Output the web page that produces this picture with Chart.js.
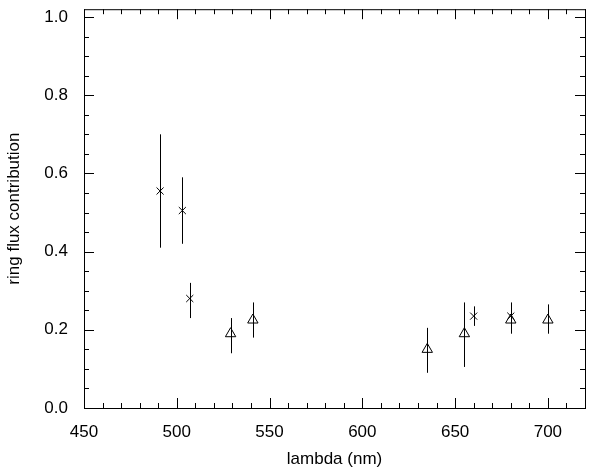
<!DOCTYPE html>
<html><head><meta charset="utf-8">
<script src="https://cdn.jsdelivr.net/npm/chart.js@4"></script>
<style>body{margin:0;background:#fff;overflow:hidden}canvas{display:block;margin-top:-9px}</style>
</head><body>
<canvas id="c" width="599" height="483"></canvas>
<script>
// crosses: wavelength, value, error low, error high
const crossX = [491, 503, 507, 660, 680];
const crossY = [0.555, 0.505, 0.28, 0.235, 0.235];
const crossLo = [0.41, 0.42, 0.23, 0.21, 0.19];
const crossHi = [0.70, 0.59, 0.32, 0.26, 0.27];
// triangles
const triX = [529, 541, 635, 655, 680, 700];
const triY = [0.19, 0.225, 0.15, 0.19, 0.225, 0.225];
const triLo = [0.14, 0.18, 0.09, 0.105, 0.225, 0.19];
const triHi = [0.23, 0.27, 0.205, 0.27, 0.225, 0.265];

const xTicks = [450, 500, 550, 600, 650, 700];
const yTicks = [0, 0.2, 0.4, 0.6, 0.8, 1.0];

const pts = (xs, ys) => xs.map((x, i) => ({x: x, y: ys[i]}));

// error bars + inward ticks drawn with the scales
const decor = {
  id: 'decor',
  afterDatasetsDraw(chart) {
    const {ctx, chartArea: a, scales: {x, y}} = chart;
    ctx.save();
    ctx.strokeStyle = '#000';
    ctx.lineWidth = 1;
    const bars = (xs, lo, hi) => xs.forEach((v, i) => {
      const px = Math.round(x.getPixelForValue(v)) + 0.5;
      ctx.beginPath();
      ctx.moveTo(px, y.getPixelForValue(lo[i]));
      ctx.lineTo(px, y.getPixelForValue(hi[i]));
      ctx.stroke();
    });
    bars(crossX, crossLo, crossHi);
    bars(triX, triLo, triHi);
    ctx.beginPath();
    for (let v = 450; v <= 720; v += 10) {
      const px = Math.round(x.getPixelForValue(v)) + 0.5;
      const len = v % 50 === 0 ? 10 : 5;
      ctx.moveTo(px, a.bottom); ctx.lineTo(px, a.bottom - len);
      ctx.moveTo(px, a.top); ctx.lineTo(px, a.top + len);
    }
    for (let k = 0; k <= 20; k++) {
      const py = Math.round(y.getPixelForValue(k * 0.05)) + 0.5;
      const len = k % 4 === 0 ? 10 : 5;
      ctx.moveTo(a.left, py); ctx.lineTo(a.left + len, py);
      ctx.moveTo(a.right, py); ctx.lineTo(a.right - len, py);
    }
    ctx.stroke();
    ctx.strokeRect(a.left + 0.5, a.top + 0.5, a.right - a.left, a.bottom - a.top);
    ctx.restore();
  }
};

const font = {family: 'Helvetica, Arial, "Liberation Sans", sans-serif', size: 17};

new Chart(document.getElementById('c'), {
  type: 'scatter',
  data: {datasets: [
    {data: pts(crossX, crossY), pointStyle: 'crossRot', pointRadius: 5, borderColor: '#000', borderWidth: 1},
    {data: pts(triX, triY), pointStyle: 'triangle', pointRadius: 6, borderColor: '#000', backgroundColor: 'rgba(0,0,0,0)', borderWidth: 1}
  ]},
  options: {
    responsive: false, animation: false,
    layout: {padding: {top: 0, right: 14}},
    plugins: {legend: {display: false}, tooltip: {enabled: false}},
    scales: {
      x: {
        type: 'linear', min: 450, max: 720,
        afterBuildTicks: s => { s.ticks = xTicks.map(v => ({value: v})); },
        afterFit: s => { s.height = 66; },
        grid: {display: false}, border: {display: false},
        ticks: {color: '#000', font: font, padding: 6, maxRotation: 0},
        title: {display: true, text: 'lambda (nm)', color: '#000', font: font, padding: {top: 0}}
      },
      y: {
        min: 0, max: 1.02,
        afterBuildTicks: s => { s.ticks = yTicks.map(v => ({value: v})); },
        afterFit: s => { s.width = 84; },
        grid: {display: false}, border: {display: false},
        ticks: {color: '#000', font: font, padding: 8, callback: v => v.toFixed(1)},
        title: {display: true, text: 'ring flux contribution', color: '#000', font: font, padding: {bottom: 4}}
      }
    }
  },
  plugins: [decor]
});
</script>
</body></html>
